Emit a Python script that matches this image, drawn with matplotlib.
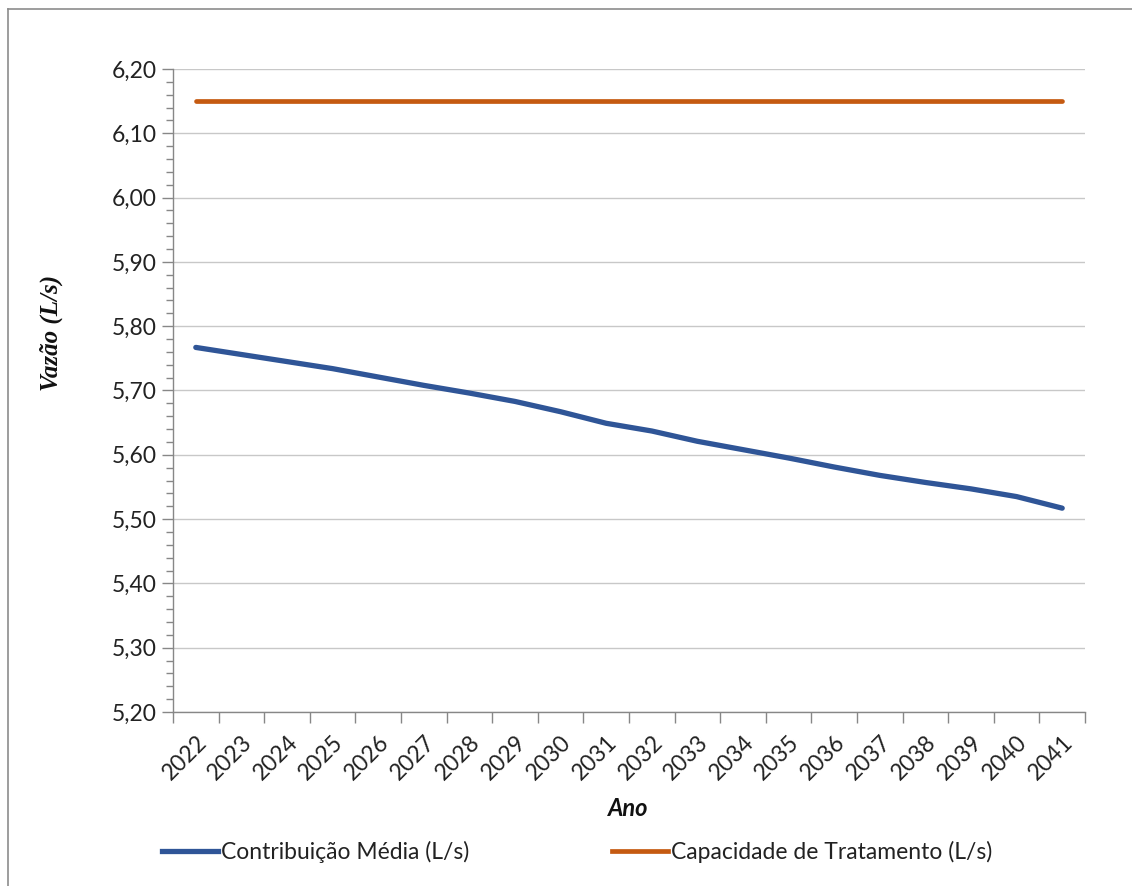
import numpy as np
import matplotlib
matplotlib.use("Agg")
from matplotlib import pyplot as plt
from matplotlib.ticker import MultipleLocator, FuncFormatter, FixedLocator
from matplotlib.lines import Line2D

anos = [str(a) for a in range(2022, 2042)]
contribuicao = [5.767, 5.756, 5.745, 5.734, 5.721, 5.708, 5.696, 5.683, 5.667, 5.649,
                5.637, 5.621, 5.608, 5.595, 5.581, 5.568, 5.557, 5.547, 5.535, 5.517]
capacidade = [6.15] * len(anos)

azul = "#2F5597"
laranja = "#C55A11"
cinza = "#878787"

plt.rcParams['font.family'] = ['Lato', 'DejaVu Sans']

fig = plt.figure(figsize=(11.32, 8.86), dpi=100)
ax = fig.add_axes([173/1132, 1-712/886, (1085-173)/1132, (712-69)/886])

x = np.arange(len(anos))
ax.plot(x, contribuicao, color=azul, lw=3.8, solid_capstyle='round')
ax.plot(x, capacidade, color=laranja, lw=3.4, solid_capstyle='round')

ax.set_xlim(-0.5, len(anos) - 0.5)
ax.set_ylim(5.20, 6.20)

ax.yaxis.set_major_locator(MultipleLocator(0.10))
ax.yaxis.set_minor_locator(MultipleLocator(0.02))
ax.yaxis.set_major_formatter(FuncFormatter(lambda v, p: f"{v:.2f}".replace('.', ',')))
ax.grid(axis='y', which='major', color='#C8C8C8', lw=1)
ax.set_axisbelow(True)

ax.set_xticks(x)
ax.set_xticklabels(anos, rotation=45, ha='right', rotation_mode='anchor')
ax.xaxis.set_minor_locator(FixedLocator(np.arange(-0.5, len(anos), 1.0)))

ax.tick_params(axis='x', which='major', length=0, pad=14, labelsize=16.5, labelcolor='#222222')
ax.tick_params(axis='x', which='minor', length=8, color=cinza, width=1)
ax.tick_params(axis='y', which='major', length=8, color=cinza, width=1, labelsize=16.5,
               labelcolor='#222222', pad=4)
ax.tick_params(axis='y', which='minor', length=5, color=cinza, width=1)

for s in ['top', 'right']:
    ax.spines[s].set_visible(False)
for s in ['left', 'bottom']:
    ax.spines[s].set_color(cinza)
    ax.spines[s].set_linewidth(1)

fig.text(51/1132, 1-333/886, "Vazão (L/s)", rotation=90, ha='center', va='center',
         fontsize=18, fontweight='bold', fontstyle='italic', color='#111111',
         family=['Liberation Serif', 'DejaVu Serif'])
fig.text(628/1132, 1-809/886, "Ano", ha='center', va='center',
         fontsize=17, fontweight='bold', fontstyle='italic', color='#111111')

handles = [Line2D([], [], color=azul, lw=3.8), Line2D([], [], color=laranja, lw=3.4)]
fig.legend(handles, ["Contribuição Média (L/s)", "Capacidade de Tratamento (L/s)"],
           loc='center left', bbox_to_anchor=(141/1132, 1-852/886), ncol=2, frameon=False,
           fontsize=16.5, handlelength=2.45, handletextpad=0.15, columnspacing=6.2,
           labelcolor='#222222')

# moldura
fig.add_artist(Line2D([8/1132, 8/1132], [0, 1-9/886], color='#8C8C8C', lw=1.2))
fig.add_artist(Line2D([8/1132, 1], [1-9/886, 1-9/886], color='#8C8C8C', lw=1.2))

fig.savefig("out.png", dpi=100)
